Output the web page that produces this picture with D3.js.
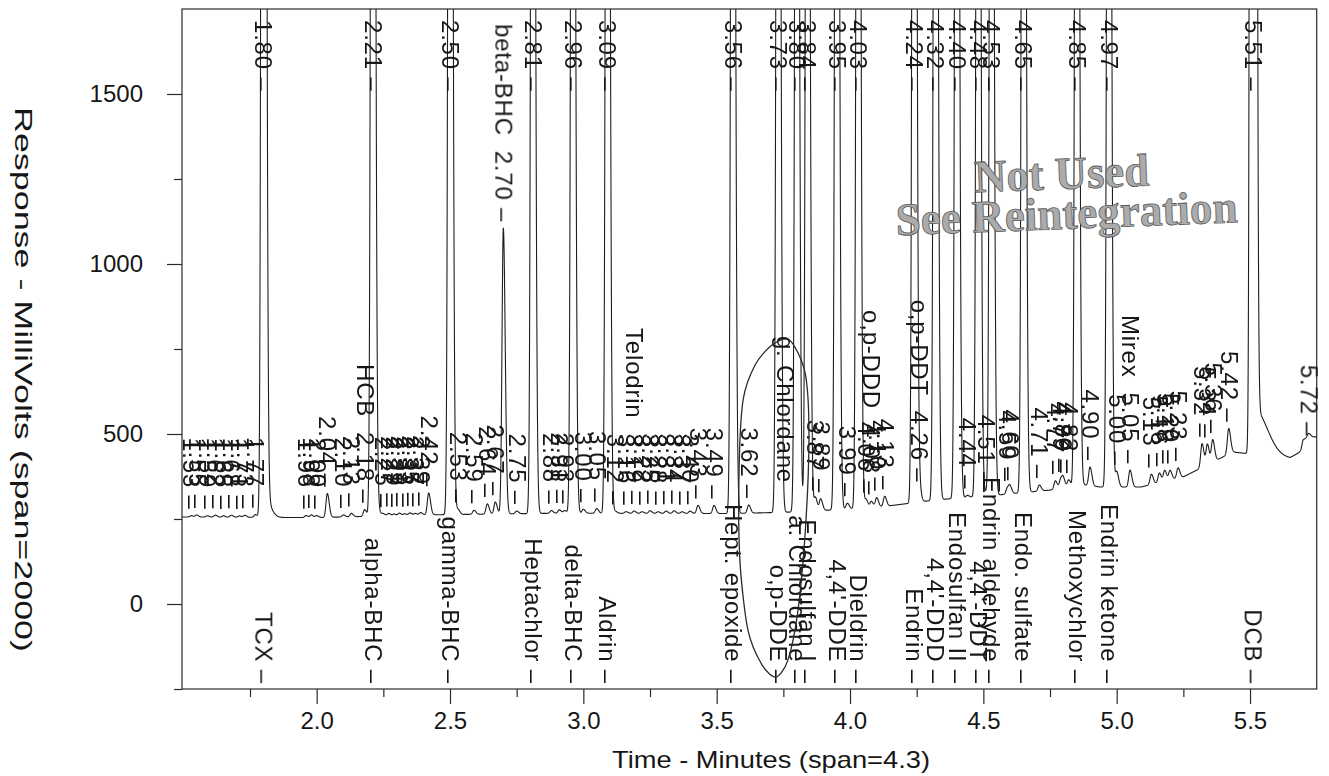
<!DOCTYPE html>
<html>
<head>
<meta charset="utf-8">
<script src="https://cdn.jsdelivr.net/npm/d3@7/dist/d3.min.js"></script>
<style>
html,body{margin:0;padding:0;background:#fff;}
svg{display:block;}
.t{font-family:"Liberation Sans",Arial,Helvetica,sans-serif;fill:#161616;font-size:24px;}
.pk{letter-spacing:0.8px;}
.stamp{font-family:"Liberation Serif","Times New Roman",serif;font-weight:bold;font-size:46px;fill:#ababab;stroke:#5a5a5a;stroke-width:0.8px;}
</style>
</head>
<body>
<svg id="chart" width="1329" height="776"></svg>
<script>
// ---------------- data ----------------
const xTickValues = [2.0, 2.5, 3.0, 3.5, 4.0, 4.5, 5.0, 5.5];
const xTickLabels = ["2.0", "2.5", "3.0", "3.5", "4.0", "4.5", "5.0", "5.5"];
const xMinorTicks = [1.75, 2.25, 2.75, 3.25, 3.75, 4.25, 4.75, 5.25];
const yTickValues = [0, 500, 1000, 1500];
const yTickLabels = ["0", "500", "1000", "1500"];
const yMinorTicks = [-250, 250, 750, 1250];

// baseline of the trace (minutes, mV)
const baseTime = [1.49, 2.00, 2.40, 2.90, 3.56, 3.81, 4.11, 4.32, 4.56, 4.75, 4.88, 4.94, 5.09, 5.25, 5.435, 5.65, 5.75];
const baseResp = [256, 254, 262, 267, 266, 271, 285, 306, 321, 335, 350, 344, 344, 374, 447, 429, 478];

// named compounds (off-scale peaks)
const compRT = [1.80, 2.21, 2.50, 2.81, 2.96, 3.09, 3.56, 3.73, 3.80, 3.84, 3.95, 4.03, 4.24, 4.32, 4.40, 4.48, 4.53, 4.65, 4.85, 4.97, 5.51];
const compName = ["TCX", "alpha-BHC", "gamma-BHC", "Heptachlor", "delta-BHC", "Aldrin", "Hept. epoxide", "o,p-DDE", "a. Chlordane", "Endosulfan I", "4,4'-DDE", "Dieldrin", "Endrin", "4,4'-DDD", "Endosulfan II", "4,4'-DDT", "Endrin aldehyde", "Endo. sulfate", "Methoxychlor", "Endrin ketone", "DCB"];
const compHeight = [9000, 6000, 6000, 5000, 5000, 5000, 5000, 5000, 4500, 4500, 5000, 5000, 5500, 5000, 5000, 5000, 4500, 5000, 5000, 5000, 30000];

// smaller integrated peaks (minutes, mV above baseline, optional name)
const minorRT = [1.53, 1.55, 1.59, 1.62, 1.65, 1.68, 1.71, 1.73, 1.77,
  1.96, 1.98, 2.00, 2.04, 2.10, 2.13, 2.18,
  2.25, 2.27, 2.29, 2.31, 2.33, 2.35, 2.37, 2.39, 2.42,
  2.53, 2.59, 2.64, 2.67, 2.70, 2.75,
  2.88, 2.91, 2.93, 3.00, 3.05,
  3.12, 3.16, 3.19, 3.22, 3.25, 3.28, 3.31, 3.34, 3.37, 3.40, 3.43, 3.49,
  3.62, 3.87, 3.89, 3.99, 4.06, 4.08, 4.10, 4.13, 4.26,
  4.44, 4.51, 4.59, 4.60, 4.71, 4.77, 4.79, 4.80, 4.82,
  4.90, 5.00, 5.05, 5.13, 5.16, 5.18, 5.20, 5.23,
  5.32, 5.34, 5.36, 5.42, 5.72];
const minorHeight = [4, 6, 4, 6, 4, 6, 4, 6, 8,
  6, 8, 6, 70, 6, 10, 20,
  5, 7, 5, 7, 5, 7, 5, 7, 64,
  15, 12, 30, 35, 840, 8,
  8, 10, 8, 12, 14,
  6, 5, 7, 5, 8, 5, 7, 8, 5, 7, 24, 24,
  24, 40, 34, 17, 25, 18, 28, 30, 40,
  6, 11, 18, 20, 18, 25, 28, 25, 22,
  55, 45, 50, 30, 28, 32, 28, 30,
  70, 60, 65, 75, 12];
const minorName = ["", "", "", "", "", "", "", "", "",
  "", "", "", "", "", "", "HCB",
  "", "", "", "", "", "", "", "", "",
  "", "", "", "", "beta-BHC", "",
  "", "", "", "", "",
  "", "", "Telodrin", "", "", "", "", "", "", "", "", "",
  "", "", "", "", "", "o,p-DDD", "", "", "o,p-DDT",
  "", "", "", "", "", "", "", "", "",
  "", "", "Mirex", "", "", "", "", "",
  "", "", "", "", ""];

// peak tails (minutes, mV, right-side width in minutes)
const tailRT = [1.806, 2.216, 5.52, 5.70];
const tailHeight = [60, 30, 130, 30];
const tailWidth = [0.02, 0.015, 0.045, 0.04];

// name printed without a retention time
const noteRT = [3.755];
const noteResp = [356];
const noteText = ["g. Chlordane"];

// hand-drawn circle around g. Chlordane (minutes, mV)
const circleTime = [3.774, 3.831, 3.846, 3.835, 3.805, 3.767, 3.722, 3.670, 3.617, 3.587, 3.584, 3.599, 3.644, 3.708];
const circleResp = [776, 682, 512, 247, -18, -165, -215, -179, -76, 129, 394, 600, 703, 762];

// ---------------- chart ----------------
const svg = d3.select("#chart");
const x = d3.scaleLinear().domain([1.495, 5.75]).range([182, 1316.7]);
const y = d3.scaleLinear().domain([-250, 1750]).range([689, 9]);
const [x0, x1] = x.range();
const [yb, yt] = y.range();

const base = d3.scaleLinear().domain(baseTime).range(baseResp).clamp(true);

const peaks = [];
compRT.forEach((rt, i) => peaks.push({rt, h: compHeight[i], sl: 0.0055, sr: 0.0075}));
minorRT.forEach((rt, i) => peaks.push({rt, h: minorHeight[i], sl: 0.005, sr: 0.007}));
tailRT.forEach((rt, i) => peaks.push({rt, h: tailHeight[i], sl: 0.005, sr: tailWidth[i]}));

function resp(t) {
  let v = base(t);
  for (const p of peaks) {
    const d = t - p.rt;
    const s = d < 0 ? p.sl : p.sr;
    const z = d / s;
    if (z > -8 && z < 8) v += p.h * Math.exp(-0.5 * z * z);
  }
  return v;
}

const times = d3.range(1.495, 5.7502, 0.0004);
const trace = times.map(t => [t, resp(t)]);

svg.append("defs").append("clipPath").attr("id", "plotclip")
  .append("rect").attr("x", x0).attr("y", yt).attr("width", x1 - x0).attr("height", yb - yt);

// frame
svg.append("rect").attr("x", x0).attr("y", yt).attr("width", x1 - x0).attr("height", yb - yt)
  .attr("fill", "none").attr("stroke", "#2a2a2a").attr("stroke-width", 1.2);

// trace
svg.append("path").datum(trace)
  .attr("clip-path", "url(#plotclip)")
  .attr("fill", "none").attr("stroke", "#1e1e1e").attr("stroke-width", 1.1)
  .attr("d", d3.line().x(d => x(d[0])).y(d => y(d[1])));

// axes
const xAxis = d3.axisBottom(x).tickValues(xTickValues).tickSize(15).tickPadding(8)
  .tickFormat((d, i) => xTickLabels[i]);
const gx = svg.append("g").attr("transform", `translate(0,${yb})`).call(xAxis);
gx.select(".domain").remove();
gx.selectAll(".tick line").attr("stroke", "#2a2a2a").attr("stroke-width", 1.2);
gx.selectAll(".tick text").attr("class", "t").attr("font-size", null).attr("font-family", null).attr("fill", null).attr("dy", "0.71em");
const gxm = svg.append("g").attr("transform", `translate(0,${yb})`)
  .call(d3.axisBottom(x).tickValues(xMinorTicks).tickSize(8).tickFormat(""));
gxm.select(".domain").remove();
gxm.selectAll(".tick line").attr("stroke", "#2a2a2a").attr("stroke-width", 1.2);

const yAxis = d3.axisLeft(y).tickValues(yTickValues).tickSize(15).tickPadding(24)
  .tickFormat((d, i) => yTickLabels[i]);
const gy = svg.append("g").attr("transform", `translate(${x0},0)`).call(yAxis);
gy.select(".domain").remove();
gy.selectAll(".tick line").attr("stroke", "#2a2a2a").attr("stroke-width", 1.2);
gy.selectAll(".tick text").attr("class", "t").attr("font-size", null).attr("font-family", null).attr("fill", null);
const gym = svg.append("g").attr("transform", `translate(${x0},0)`)
  .call(d3.axisLeft(y).tickValues(yMinorTicks).tickSize(8).tickFormat(""));
gym.select(".domain").remove();
gym.selectAll(".tick line").attr("stroke", "#2a2a2a").attr("stroke-width", 1.2);

// axis titles
svg.append("text").attr("class", "t")
  .attr("x", 612).attr("y", 768)
  .attr("textLength", 318).attr("lengthAdjust", "spacingAndGlyphs")
  .text("Time - Minutes (span=4.3)");
svg.append("text").attr("class", "t")
  .attr("transform", `translate(15,107) rotate(90)`)
  .attr("textLength", 545).attr("lengthAdjust", "spacingAndGlyphs")
  .text("Response - MilliVolts (span=2000)");

const labels = svg.append("g").style("opacity", 0.995);
const dx = -8;
// off-scale peak retention times along the top
labels.selectAll(".top").data(compRT).join("text").attr("class", "t pk top")
  .attr("transform", d => `translate(${x(d) + dx},${yt + 11}) rotate(90)`)
  .text(d => d.toFixed(2) + " \u2013");
// compound names near the bottom
labels.selectAll(".bot").data(compRT).join("text").attr("class", "t pk bot")
  .attr("text-anchor", "end")
  .attr("transform", d => `translate(${x(d) + dx},${yb - 5}) rotate(90)`)
  .text((d, i) => compName[i] + " \u2013");
// small peak labels above their apex
labels.selectAll(".mn").data(minorRT).join("text").attr("class", "t pk mn")
  .attr("text-anchor", "end")
  .attr("transform", (d, i) => `translate(${x(d) + dx},${y(base(d) + minorHeight[i]) - 6}) rotate(90)`)
  .text((d, i) => (minorName[i] ? minorName[i] + "\u00a0\u00a0" : "") + d.toFixed(2) + " \u2013");
// name-only note
labels.selectAll(".note").data(noteRT).join("text").attr("class", "t pk note")
  .attr("text-anchor", "end")
  .attr("transform", (d, i) => `translate(${x(d) + dx},${y(noteResp[i])}) rotate(90)`)
  .text((d, i) => noteText[i]);

// hand-drawn circle
svg.append("path").datum(circleTime.map((t, i) => [t, circleResp[i]]))
  .attr("fill", "none").attr("stroke", "#2a2a2a").attr("stroke-width", 1.3)
  .attr("d", d3.line().x(d => x(d[0])).y(d => y(d[1])).curve(d3.curveCardinalClosed.tension(0.2)));

// stamp
const st = svg.append("g").attr("transform", "rotate(-2.2, 1060, 200)");
st.append("text").attr("class", "stamp").attr("x", 975).attr("y", 189)
  .attr("textLength", 175).attr("lengthAdjust", "spacingAndGlyphs").text("Not Used");
st.append("text").attr("class", "stamp").attr("x", 895).attr("y", 229)
  .attr("textLength", 342).attr("lengthAdjust", "spacingAndGlyphs").text("See Reintegration");
</script>
</body>
</html>
